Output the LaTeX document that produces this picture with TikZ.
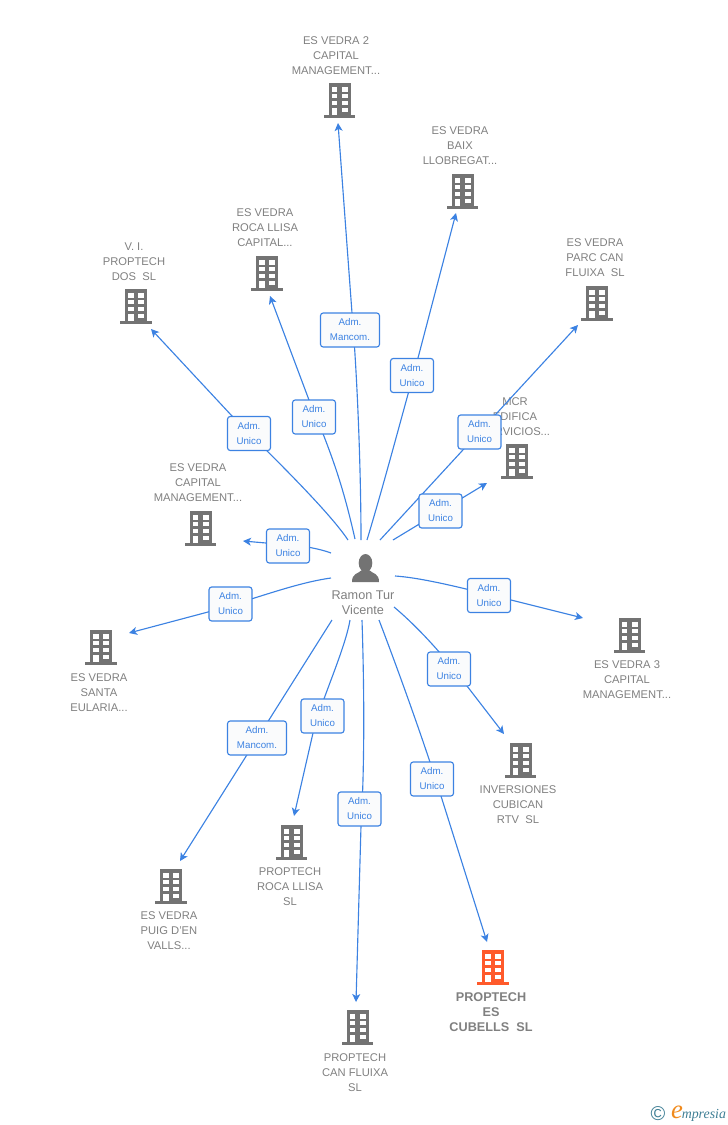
\documentclass[tikz,border=0pt]{standalone}
\usepackage{fontspec}
\setmainfont{Liberation Sans}
\newfontfamily\logofont{Liberation Serif}
\usetikzlibrary{arrows.meta}
\definecolor{linkblue}{HTML}{3C82E2}
\definecolor{boxfill}{HTML}{FAFBFC}
\definecolor{textgray}{HTML}{808080}
\definecolor{icongray}{HTML}{737373}
\definecolor{iconorange}{HTML}{FF5A2B}
\definecolor{logoteal}{HTML}{3F7F95}
\definecolor{logoorange}{HTML}{F08A1D}
\tikzset{
  labeltext/.style={text=textgray,align=center,inner sep=0pt,font=\fontsize{8.4}{11.25}\selectfont},
  admbox/.style={draw=linkblue,fill=boxfill,rounded corners=2pt,line width=0.85pt,text=linkblue,
    align=center,inner sep=0pt,minimum height=25.5pt,font=\fontsize{7.3}{11.25}\selectfont,
    execute at begin node=\rule{0pt}{6.8pt}},
  link/.style={draw=linkblue,line width=0.85pt},
  linkarrow/.style={link,-{Stealth[length=6pt,width=6pt,inset=1.6pt]}},
  building/.pic={
    \fill[#1] (-10.8,-17) rectangle (11.2,15);
    \fill[#1] (-15.8,15) rectangle (15.7,17.5);
    \foreach \ya/\yb in {-12.7/-8.3,-6/-1.7,1/5} {
      \fill[white] (-7.8,\ya) rectangle (-2.2,\yb);
      \fill[white] (2.2,\ya) rectangle (8.2,\yb);
    }
    \fill[white] (-7.8,7.7) rectangle (-2.2,15);
    \fill[white] (2.2,7.7) rectangle (8.2,12);
  }
}
\begin{document}
\begin{tikzpicture}[x=0.75pt,y=-0.75pt]
\useasboundingbox (0,0) rectangle (728,1125);

% Marking person
\fill[icongray] (365.5,563) ellipse (6.8 and 9);
\fill[icongray] (352,582) .. controls (352,573) and (358,574) .. (362,570) -- (369,570) .. controls (373,574) and (379,573) .. (379,582) -- cycle;
\node[labeltext,font=\fontsize{9.5}{11.25}\selectfont] (ramon) at (363,603) {Ramon Tur\\Vicente};

% Marking companies by icon
\pic at (339.5,100) {building=icongray};
\pic at (462.5,191) {building=icongray};
\pic at (597,303) {building=icongray};
\pic at (517,461) {building=icongray};
\pic at (267,273) {building=icongray};
\pic at (136,306) {building=icongray};
\pic at (200.5,528) {building=icongray};
\pic at (101,647) {building=icongray};
\pic at (629.5,635) {building=icongray};
\pic at (520.5,760) {building=icongray};
\pic at (493,967) {building=iconorange};
\pic at (357.5,1027) {building=icongray};
\pic at (291.5,842) {building=icongray};
\pic at (171,886) {building=icongray};

% Marking company names
\node[labeltext] (vedratwo) at (336,56) {ES VEDRA 2\\CAPITAL\\MANAGEMENT...};
\node[labeltext] (vedrabaix) at (460,146) {ES VEDRA\\BAIX\\LLOBREGAT...};
\node[labeltext] (vedraparc) at (595,258) {ES VEDRA\\PARC CAN\\FLUIXA\ \ SL};
\node[labeltext] (mcr) at (515,417) {MCR\\EDIFICA\\SERVICIOS...};
\node[labeltext] (vedraroca) at (265,228) {ES VEDRA\\ROCA LLISA\\CAPITAL...};
\node[labeltext] (vipropdos) at (134,262) {V. I.\\PROPTECH\\DOS\ \ SL};
\node[labeltext] (vedracap) at (198,483) {ES VEDRA\\CAPITAL\\MANAGEMENT...};
\node[labeltext] (vedrasanta) at (99,693) {ES VEDRA\\SANTA\\EULARIA...};
\node[labeltext] (vedrathree) at (627,680) {ES VEDRA 3\\CAPITAL\\MANAGEMENT...};
\node[labeltext] (inversiones) at (518,805) {INVERSIONES\\CUBICAN\\RTV\ \ SL};
\node[labeltext,font=\fontsize{9.5}{11.25}\selectfont\bfseries] (cubells) at (491,1012) {PROPTECH\\ES\\CUBELLS\ \ SL};
\node[labeltext] (canfluixa) at (355,1073) {PROPTECH\\CAN FLUIXA\\SL};
\node[labeltext] (rocallisa) at (290,887) {PROPTECH\\ROCA LLISA\\SL};
\node[labeltext] (vedrapuig) at (169,931) {ES VEDRA\\PUIG D'EN\\VALLS...};

% Free ends at the person
\coordinate (sa) at (361,540);
\coordinate (sb) at (367,540);
\coordinate (sc) at (380,540);
\coordinate (sd) at (393,540);
\coordinate (se) at (355,539);
\coordinate (sf) at (348,540);
\coordinate (sg) at (331,553);
\coordinate (sh) at (331,578);
\coordinate (si) at (395,576);
\coordinate (sj) at (394,607);
\coordinate (sk) at (379,620);
\coordinate (sl) at (362,620);
\coordinate (sm) at (350,620);
\coordinate (sn) at (332,620);

% Free ends at the companies
\coordinate (ta) at (338,123);
\coordinate (tb) at (456,213);
\coordinate (tc) at (578,325);
\coordinate (td) at (487,483);
\coordinate (te) at (270,296);
\coordinate (tf) at (151,329);
\coordinate (tg) at (243,541);
\coordinate (th) at (129,633);
\coordinate (ti) at (583,618);
\coordinate (tj) at (504,734);
\coordinate (tk) at (487,942);
\coordinate (tl) at (356,1002);
\coordinate (tm) at (294,816);
\coordinate (tn) at (180,861);

% Drawing links
\draw[linkarrow] (sa) .. controls (361,480) and (358,385) .. (352,313) -- (ta);
\draw[linkarrow] (sb) .. controls (385,480) and (398,430) .. (418,358) -- (tb);
\draw[linkarrow] (sc) -- (tc);
\draw[linkarrow] (sd) -- (td);
\draw[linkarrow] (se) .. controls (345,495) and (335,460) .. (309,400) -- (te);
\draw[linkarrow] (sf) .. controls (328,510) and (268,452) .. (232,416) -- (tf);
\draw[linkarrow] (sg) .. controls (315,547) and (290,544) .. (266,543) -- (tg);
\draw[linkarrow] (sh) .. controls (295,583) and (255,599) .. (208,612) -- (th);
\draw[linkarrow] (si) .. controls (425,578) and (470,590) .. (511,600) -- (ti);
\draw[linkarrow] (sj) .. controls (412,622) and (437,647) .. (467,686) -- (tj);
\draw[linkarrow] (sk) .. controls (400,675) and (425,745) .. (441,796) -- (tk);
\draw[linkarrow] (sl) .. controls (364,680) and (365,760) .. (361,826) -- (tl);
\draw[linkarrow] (sm) .. controls (345,650) and (319.4,705) .. (313,733) -- (tm);
\draw[linkarrow] (sn) -- (tn);

% Marking role boxes
\path (350,330) node[admbox,minimum width=44.2pt] (ba) {Adm.\\Mancom.};
\path (412,375.5) node[admbox,minimum width=32.2pt] (bb) {Adm.\\Unico};
\path (479.5,432) node[admbox,minimum width=32.2pt] (bc) {Adm.\\Unico};
\path (440.5,511) node[admbox,minimum width=32.2pt] (bd) {Adm.\\Unico};
\path (314,417) node[admbox,minimum width=32.2pt] (be) {Adm.\\Unico};
\path (249,433.5) node[admbox,minimum width=32.2pt] (bf) {Adm.\\Unico};
\path (288,546) node[admbox,minimum width=32.2pt] (bg) {Adm.\\Unico};
\path (230.5,604) node[admbox,minimum width=32.2pt] (bh) {Adm.\\Unico};
\path (489,595.5) node[admbox,minimum width=32.2pt] (bi) {Adm.\\Unico};
\path (449,669) node[admbox,minimum width=32.2pt] (bj) {Adm.\\Unico};
\path (432,779) node[admbox,minimum width=32.2pt] (bk) {Adm.\\Unico};
\path (359.5,809) node[admbox,minimum width=32.2pt] (bl) {Adm.\\Unico};
\path (322.5,716) node[admbox,minimum width=32.2pt] (bm) {Adm.\\Unico};
\path (257,738) node[admbox,minimum width=44.2pt] (bn) {Adm.\\Mancom.};

% Marking logo
\node[text=logoteal,inner sep=0pt,font=\fontsize{15}{15}\selectfont] (copyrightmark) at (658,1114) {©};
\node[text=logoorange,inner sep=0pt,font=\logofont\itshape\fontsize{20}{20}\selectfont] (logoe) at (677,1112) {e};
\node[text=logoteal,inner sep=0pt,anchor=west,font=\logofont\itshape\fontsize{10.4}{11}\selectfont] (logotext) at (681.5,1115) {mpresia};
\end{tikzpicture}
\end{document}
